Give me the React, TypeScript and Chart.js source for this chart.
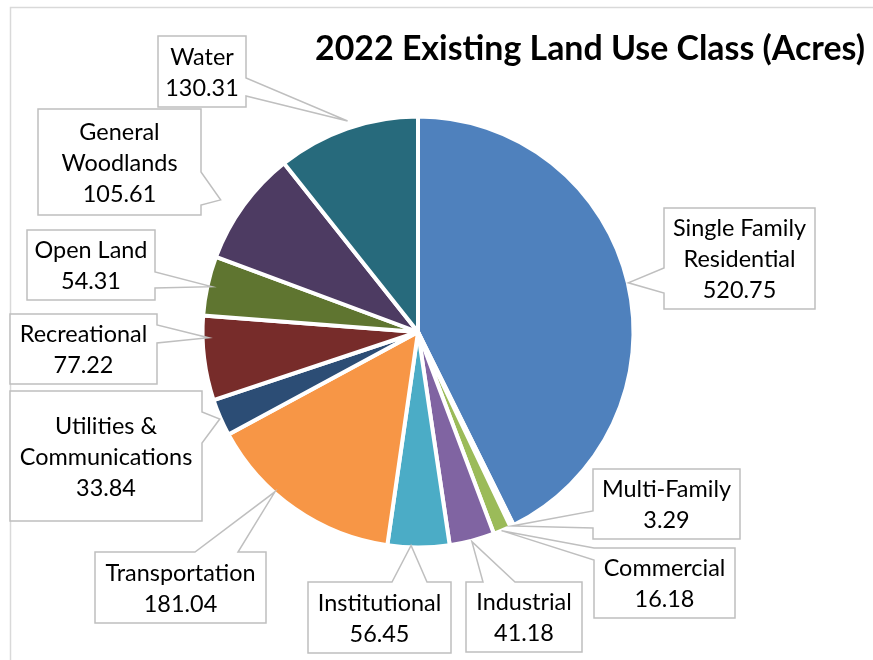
import React, { useEffect, useRef } from 'react';
import { Chart, registerables } from 'chart.js';

Chart.register(...registerables);

// ---- data ----
const categories = [
  'Single Family Residential',
  'Multi-Family',
  'Commercial',
  'Industrial',
  'Institutional',
  'Transportation',
  'Utilities & Communications',
  'Recreational',
  'Open Land',
  'General Woodlands',
  'Water',
];
const values = [520.75, 3.29, 16.18, 41.18, 56.45, 181.04, 33.84, 77.22, 54.31, 105.61, 130.31];
const labelLines = [
  ['Single Family', 'Residential'],
  ['Multi-Family'],
  ['Commercial'],
  ['Industrial'],
  ['Institutional'],
  ['Transportation'],
  ['Utilities &', 'Communications'],
  ['Recreational'],
  ['Open Land'],
  ['General', 'Woodlands'],
  ['Water'],
];
const sliceColors = [
  '#4F81BD', '#C0504D', '#9BBB59', '#8064A2', '#4BACC6', '#F79646',
  '#2C4D75', '#772C2A', '#5F7530', '#4D3B62', '#276A7C',
];
const titleText = '2022 Existing Land Use Class (Acres)';

// ---- callout layout (boxes, wedge base, tip placement along slice) ----
type Callout = { x: number; y: number; w: number; h: number; side: 'left' | 'right' | 'top' | 'bottom'; b1: number; b2: number; frac: number; off: number };
const calloutLayout: Callout[] = [
  { x: 664, y: 208, w: 151, h: 101, side: 'left', b1: 268, b2: 293, frac: 0.5, off: 2.5 },
  { x: 593, y: 469, w: 147, h: 70, side: 'left', b1: 511, b2: 528, frac: 0.5, off: 2 },
  { x: 594, y: 548, w: 141, h: 70, side: 'left', b1: 548, b2: 560, frac: 0.54, off: 2 },
  { x: 466, y: 582, w: 116, h: 70, side: 'top', b1: 483, b2: 515, frac: 0.51, off: 3 },
  { x: 308, y: 582, w: 143, h: 71, side: 'top', b1: 392, b2: 427, frac: 0.62, off: 0 },
  { x: 95, y: 552, w: 171, h: 71, side: 'top', b1: 195, b2: 238, frac: 0.63, off: 1 },
  { x: 10, y: 391, w: 192, h: 130, side: 'right', b1: 412, b2: 443, frac: 0.47, off: 3 },
  { x: 10, y: 314, w: 147, h: 70, side: 'right', b1: 325, b2: 343, frac: 0.74, off: -4 },
  { x: 27, y: 230, w: 128, h: 70, side: 'right', b1: 272, b2: 288, frac: 0.5, off: -2 },
  { x: 38, y: 109, w: 163, h: 106, side: 'right', b1: 172, b2: 205, frac: 0.43, off: 24 },
  { x: 158, y: 36, w: 88, h: 71, side: 'right', b1: 78, b2: 96, frac: 0.52, off: 9 },
];

const FONT = 'Lato, "Open Sans", sans-serif';
const BW = 4;

export default function App() {
  const ref = useRef<HTMLCanvasElement>(null);

  useEffect(() => {
    const canvas = ref.current!;
    const calloutPlugin = {
      id: 'callouts',
      beforeDraw(chart: any) {
        const ctx = chart.ctx as CanvasRenderingContext2D;
        ctx.save();
        ctx.fillStyle = '#ffffff';
        ctx.fillRect(0, 0, chart.width, chart.height);
        ctx.strokeStyle = '#d9d9d9';
        ctx.lineWidth = 1.5;
        ctx.strokeRect(10.5, 7.5, chart.width + 40, chart.height + 40);
        ctx.restore();
      },
      afterDatasetsDraw(chart: any) {
        const ctx = chart.ctx as CanvasRenderingContext2D;
        const meta = chart.getDatasetMeta(0);
        ctx.save();
        // fit label font size
        ctx.font = `100px ${FONT}`;
        const refs: [string, number][] = [['Single Family', 131], ['Communications', 172], ['Transportation', 153]];
        let m = 0, t = 0;
        refs.forEach(([s, w]) => { m += ctx.measureText(s).width; t += w; });
        const fs = (100 * t) / m;

        calloutLayout.forEach((c, i) => {
          const arc = meta.data[i];
          if (!arc) return;
          const p = arc.getProps(['x', 'y', 'startAngle', 'endAngle', 'outerRadius'], true);
          const a = p.startAngle + c.frac * (p.endAngle - p.startAngle);
          const r = p.outerRadius - BW / 2 + c.off;
          const tx = p.x + r * Math.cos(a);
          const ty = p.y + r * Math.sin(a);
          const { x, y, w, h } = c;
          ctx.beginPath();
          ctx.moveTo(x, y);
          if (c.side === 'top') { ctx.lineTo(c.b1, y); ctx.lineTo(tx, ty); ctx.lineTo(c.b2, y); }
          ctx.lineTo(x + w, y);
          if (c.side === 'right') { ctx.lineTo(x + w, c.b1); ctx.lineTo(tx, ty); ctx.lineTo(x + w, c.b2); }
          ctx.lineTo(x + w, y + h);
          if (c.side === 'bottom') { ctx.lineTo(c.b2, y + h); ctx.lineTo(tx, ty); ctx.lineTo(c.b1, y + h); }
          ctx.lineTo(x, y + h);
          if (c.side === 'left') { ctx.lineTo(x, c.b2); ctx.lineTo(tx, ty); ctx.lineTo(x, c.b1); }
          ctx.closePath();
          ctx.fillStyle = '#ffffff';
          ctx.fill();
          ctx.strokeStyle = '#bfbfbf';
          ctx.lineWidth = 1.5;
          ctx.lineJoin = 'miter';
          ctx.stroke();

          const lines = [...labelLines[i], values[i].toFixed(2)];
          ctx.fillStyle = '#000000';
          ctx.font = `${fs}px ${FONT}`;
          ctx.textAlign = 'center';
          ctx.textBaseline = 'alphabetic';
          const cx = x + w / 2;
          const cy = y + h / 2;
          const n = lines.length;
          lines.forEach((ln, k) => {
            ctx.fillText(ln, cx, cy + (k - (n - 1) / 2) * 31 + 8.5);
          });
        });

        // title
        ctx.font = `bold 100px ${FONT}`;
        const tw = ctx.measureText(titleText).width;
        const ts = (100 * 550) / tw;
        ctx.font = `bold ${ts}px ${FONT}`;
        ctx.fillStyle = '#000000';
        ctx.textAlign = 'center';
        ctx.textBaseline = 'alphabetic';
        ctx.fillText(titleText, 590, 60);
        ctx.restore();
      },
    };

    const chart = new Chart(canvas, {
      type: 'pie',
      data: {
        labels: categories,
        datasets: [
          {
            data: values,
            backgroundColor: sliceColors,
            borderColor: '#ffffff',
            borderWidth: BW,
            radius: 213.5 + BW / 2,
          } as any,
        ],
      },
      options: {
        responsive: false,
        animation: false,
        layout: { padding: { left: 204, right: 241, top: 118, bottom: 114 } },
        plugins: {
          legend: { display: false },
          tooltip: { enabled: false },
          title: { display: false },
        },
      },
      plugins: [calloutPlugin],
    });
    return () => chart.destroy();
  }, []);

  return (
    <div style={{ position: 'absolute', left: 0, top: 0, width: 873, height: 660 }}>
      <canvas ref={ref} width={873} height={660} style={{ display: 'block', width: 873, height: 660 }} />
    </div>
  );
}
